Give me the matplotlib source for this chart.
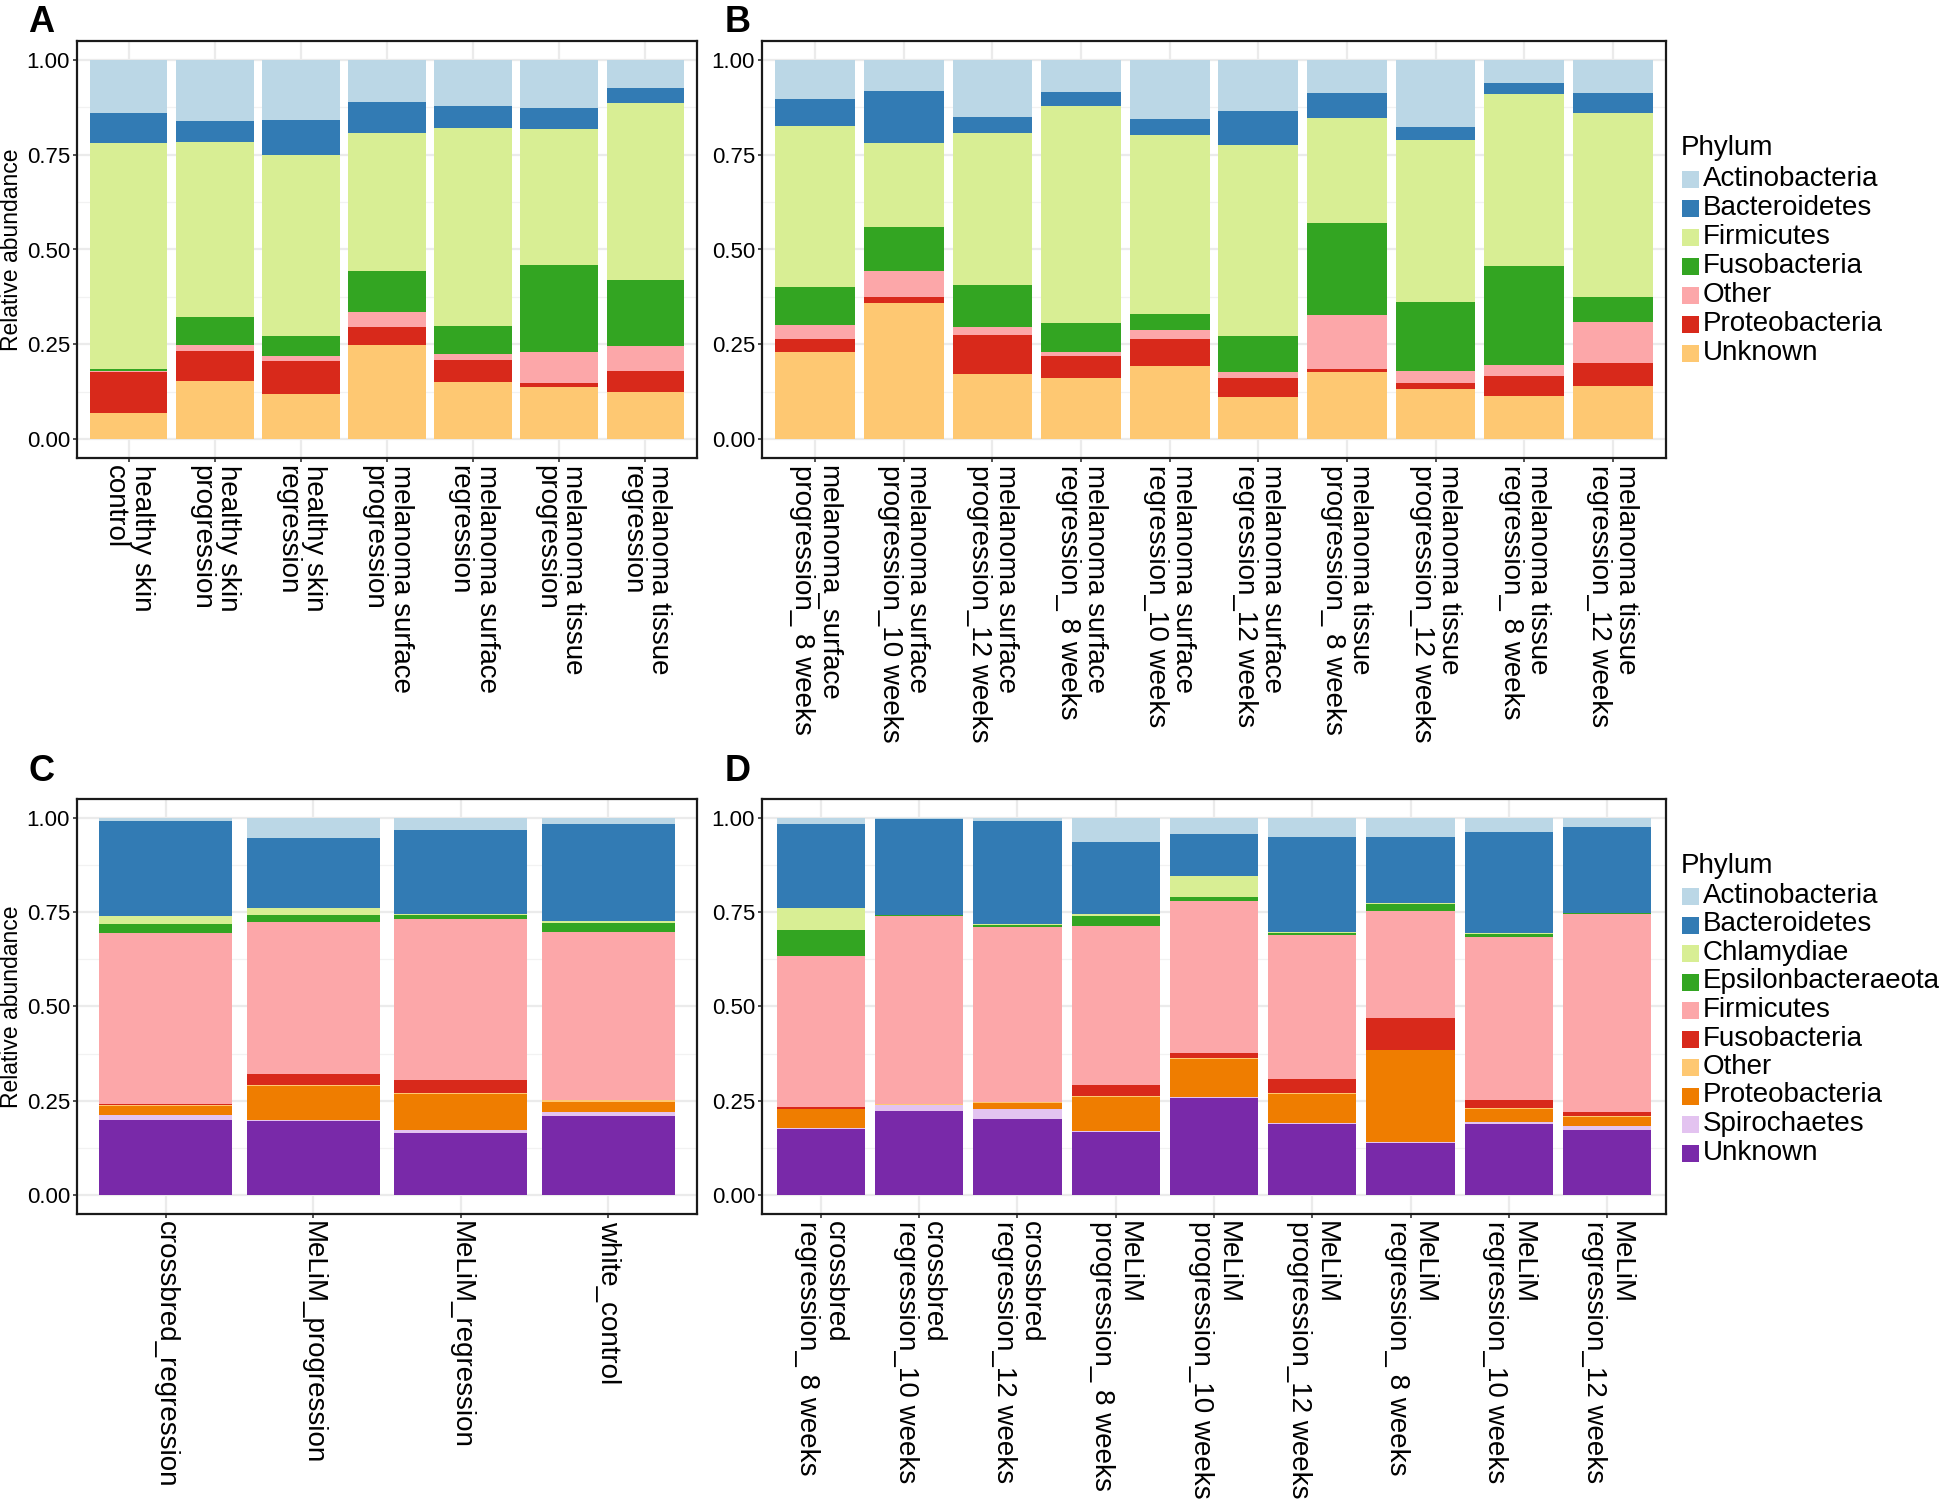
import matplotlib
matplotlib.use("Agg")
import matplotlib.pyplot as plt
from matplotlib.patches import Rectangle
import numpy as np

plt.rcParams['font.family'] = ['Liberation Sans', 'DejaVu Sans']

# ---- panel A : sample type ----
a_labels = ["healthy skin\ncontrol", "healthy skin\nprogression", "healthy skin\nregression",
            "melanoma surface\nprogression", "melanoma surface\nregression",
            "melanoma tissue\nprogression", "melanoma tissue\nregression"]
a_actino = [0.139, 0.160, 0.158, 0.111, 0.121, 0.128, 0.073]
a_bact = [0.080, 0.056, 0.092, 0.082, 0.058, 0.053, 0.040]
a_firm = [0.598, 0.462, 0.477, 0.364, 0.523, 0.361, 0.467]
a_fuso = [0.004, 0.073, 0.054, 0.107, 0.074, 0.228, 0.175]
a_other = [0.004, 0.018, 0.012, 0.041, 0.015, 0.082, 0.065]
a_proteo = [0.108, 0.079, 0.087, 0.048, 0.059, 0.011, 0.056]
a_unknown = [0.068, 0.152, 0.120, 0.247, 0.150, 0.137, 0.124]

# ---- panel B : sample type x time ----
b_labels = ["melanoma_surface\nprogression_ 8 weeks", "melanoma surface\nprogression_10 weeks",
            "melanoma surface\nprogression_12 weeks", "melanoma surface\nregression_ 8 weeks",
            "melanoma surface\nregression_10 weeks", "melanoma surface\nregression_12 weeks",
            "melanoma tissue\nprogression_ 8 weeks", "melanoma tissue\nprogression_12 weeks",
            "melanoma tissue\nregression_ 8 weeks", "melanoma tissue\nregression_12 weeks"]
b_actino = [0.102, 0.081, 0.151, 0.085, 0.155, 0.134, 0.087, 0.176, 0.062, 0.087]
b_bact = [0.072, 0.139, 0.042, 0.036, 0.043, 0.090, 0.067, 0.035, 0.027, 0.052]
b_firm = [0.426, 0.221, 0.400, 0.574, 0.472, 0.503, 0.275, 0.428, 0.454, 0.487]
b_fuso = [0.100, 0.116, 0.112, 0.075, 0.042, 0.097, 0.243, 0.181, 0.261, 0.066]
b_other = [0.035, 0.067, 0.020, 0.010, 0.023, 0.015, 0.143, 0.032, 0.029, 0.107]
b_proteo = [0.035, 0.016, 0.104, 0.060, 0.071, 0.049, 0.008, 0.016, 0.053, 0.060]
b_unknown = [0.230, 0.360, 0.171, 0.160, 0.194, 0.112, 0.177, 0.132, 0.114, 0.141]

# ---- panel C : faeces by group ----
c_labels = ["crossbred_regression", "MeLiM_progression", "MeLiM_regression", "white_control"]
c_actino = [0.007, 0.053, 0.033, 0.016]
c_bact = [0.252, 0.187, 0.223, 0.257]
c_chlam = [0.023, 0.018, 0.002, 0.005]
c_epsilon = [0.023, 0.017, 0.009, 0.024]
c_firm = [0.454, 0.405, 0.428, 0.446]
c_fuso = [0.002, 0.027, 0.035, 0.001]
c_other = [0.003, 0.003, 0.002, 0.004]
c_proteo = [0.023, 0.090, 0.095, 0.027]
c_spiro = [0.014, 0.003, 0.007, 0.012]
c_unknown = [0.199, 0.197, 0.166, 0.209]

# ---- panel D : faeces by group x time ----
d_labels = ["crossbred\nregression_ 8 weeks", "crossbred\nregression_10 weeks",
            "crossbred\nregression_12 weeks", "MeLiM\nprogression_ 8 weeks",
            "MeLiM\nprogression_10 weeks", "MeLiM\nprogression_12 weeks",
            "MeLiM\nregression_ 8 weeks", "MeLiM\nregression_10 weeks",
            "MeLiM\nregression_12 weeks"]
d_actino = [0.016, 0.002, 0.007, 0.063, 0.044, 0.050, 0.050, 0.037, 0.024]
d_bact = [0.222, 0.256, 0.275, 0.191, 0.110, 0.252, 0.176, 0.268, 0.227]
d_chlam = [0.060, 0.001, 0.001, 0.006, 0.056, 0.002, 0.003, 0.002, 0.002]
d_epsilon = [0.069, 0.001, 0.007, 0.027, 0.011, 0.007, 0.017, 0.008, 0.002]
d_firm = [0.399, 0.499, 0.462, 0.420, 0.402, 0.381, 0.285, 0.433, 0.525]
d_fuso = [0.005, 0.001, 0.002, 0.029, 0.013, 0.036, 0.083, 0.021, 0.011]
d_other = [0.002, 0.002, 0.001, 0.005, 0.003, 0.003, 0.001, 0.002, 0.002]
d_proteo = [0.050, 0.001, 0.018, 0.090, 0.100, 0.077, 0.244, 0.035, 0.025]
d_spiro = [0.003, 0.015, 0.025, 0.002, 0.004, 0.004, 0.002, 0.006, 0.010]
d_unknown = [0.174, 0.223, 0.202, 0.167, 0.257, 0.188, 0.139, 0.188, 0.172]

top_names = ["Actinobacteria", "Bacteroidetes", "Firmicutes", "Fusobacteria",
             "Other", "Proteobacteria", "Unknown"]
top_colors = ["#BBD7E6", "#327BB4", "#D8EE94", "#33A522", "#FCA7A9", "#D8291B", "#FEC872"]
bot_names = ["Actinobacteria", "Bacteroidetes", "Chlamydiae", "Epsilonbacteraeota",
             "Firmicutes", "Fusobacteria", "Other", "Proteobacteria", "Spirochaetes", "Unknown"]
bot_colors = ["#BBD7E6", "#327BB4", "#D8EE94", "#33A522", "#FCA7A9", "#D8291B",
              "#FEC872", "#EF7D00", "#E3C3F0", "#7929A9"]

W, H = 1952, 1508
fig = plt.figure(figsize=(W / 100, H / 100), dpi=100)


def px_axes(l, r, t, b):
    return fig.add_axes([l / W, 1 - b / H, (r - l) / W, (b - t) / H])


def stacked(ax, labels, series, colors, ylab):
    vals = np.array(series, dtype=float)
    vals = vals / vals.sum(axis=0)  # position = "fill"
    n = len(labels)
    x = np.arange(n)
    ax.set_xlim(-0.6, n - 0.4)
    ax.set_ylim(-0.05, 1.05)
    ax.set_yticks([0, 0.25, 0.5, 0.75, 1.0])
    ax.set_yticks([0.125, 0.375, 0.625, 0.875], minor=True)
    ax.set_yticklabels(["0.00", "0.25", "0.50", "0.75", "1.00"], fontsize=16)
    ax.set_xticks(x)
    ax.set_xticklabels(labels, rotation=-90, fontsize=20, ha="center", va="top",
                       linespacing=1.05, multialignment="left")
    ax.grid(True, which="major", color="#EBEBEB", linewidth=1.6, zorder=0)
    ax.grid(True, which="minor", axis="y", color="#F2F2F2", linewidth=0.9, zorder=0)
    ax.set_axisbelow(True)
    ax.tick_params(axis="both", which="major", length=3, width=1.2, color="#333333", pad=2)
    ax.tick_params(axis="y", which="minor", length=0)
    for sp in ax.spines.values():
        sp.set_linewidth(1.6)
        sp.set_color("#1A1A1A")
    bottom = np.zeros(n)
    # first phylum sits on top, so stack from the last one upwards
    for row, col in zip(vals[::-1], colors[::-1]):
        ax.bar(x, row, 0.9, bottom=bottom, color=col, linewidth=0, zorder=2)
        bottom += row
    if ylab:
        pos = ax.get_position()
        fig.text(12 / W, pos.y0 + pos.height / 2, "Relative abundance", fontsize=16.5,
                 rotation=90, ha="center", va="center")


def legend(names, colors, title_y, first_y, step):
    fig.text(1681 / W, 1 - title_y / H, "Phylum", fontsize=20, va="center", ha="left")
    for i, (nm, col) in enumerate(zip(names, colors)):
        yc = first_y + i * step
        fig.add_artist(Rectangle((1682 / W, 1 - (yc + 9) / H), 17 / W, 17 / H,
                                 transform=fig.transFigure, color=col, linewidth=0))
        fig.text(1703 / W, 1 - yc / H, nm, fontsize=20, va="center", ha="left")


axA = px_axes(77, 697, 41, 458)
stacked(axA, a_labels, [a_actino, a_bact, a_firm, a_fuso, a_other, a_proteo, a_unknown],
        top_colors, True)
axB = px_axes(762, 1666, 41, 458)
stacked(axB, b_labels, [b_actino, b_bact, b_firm, b_fuso, b_other, b_proteo, b_unknown],
        top_colors, False)
axC = px_axes(77, 697, 799, 1214)
stacked(axC, c_labels, [c_actino, c_bact, c_chlam, c_epsilon, c_firm, c_fuso, c_other,
                        c_proteo, c_spiro, c_unknown], bot_colors, True)
axD = px_axes(762, 1666, 799, 1214)
stacked(axD, d_labels, [d_actino, d_bact, d_chlam, d_epsilon, d_firm, d_fuso, d_other,
                        d_proteo, d_spiro, d_unknown], bot_colors, False)

legend(top_names, top_colors, 148, 179, 29)
legend(bot_names, bot_colors, 866, 896, 28.5)

for lab, xx, yy in [("A", 28, 5), ("B", 725, 5), ("C", 28, 754), ("D", 725, 754)]:
    fig.text(xx / W, 1 - yy / H, lab, fontsize=26, fontweight="bold", va="top", ha="left")

fig.savefig("out.png", dpi=100)
